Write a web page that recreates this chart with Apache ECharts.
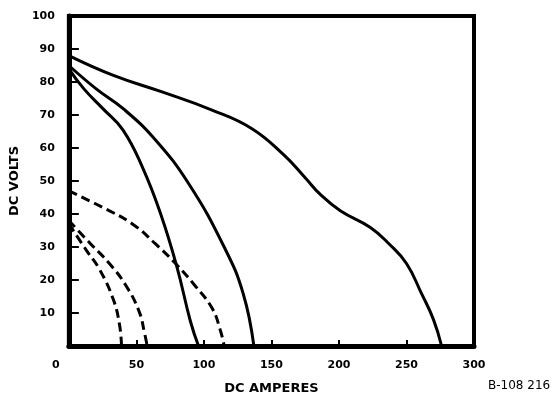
<!DOCTYPE html>
<html>
<head>
<meta charset="utf-8">
<script src="https://cdn.jsdelivr.net/npm/echarts@6/dist/echarts.min.js"></script>
<style>
  html, body { margin: 0; padding: 0; background: #fff; }
  #chart { width: 556px; height: 400px; }
</style>
</head>
<body>
<div id="chart"></div>
<script>
// [amperes, volts]
const solidHigh = [[0, 88], [33, 82], [69, 77], [106, 71.5], [135, 66], [159, 58], [175, 51], [186, 46], [201, 41], [223, 36], [237, 31], [250, 25], [261, 16], [270, 8], [276, 0]];
const solidMid = [[0, 85], [20, 78], [40, 72], [64, 62.5], [89, 49], [115, 30], [129, 16], [137, 0]];
const solidLow = [[0, 84], [11, 78], [25, 72], [40, 65.5], [55, 53.7], [68, 40], [80, 24], [90, 7.5], [96, 0]];
const dashedOuter = [[0, 47], [25, 42], [47, 37], [64, 31], [79, 25], [93, 18.5], [106, 11.5], [112, 5], [115, 0]];
const dashedMid = [[0, 38], [16, 31], [30, 25], [42, 18.5], [52, 10.5], [56, 4], [58, 0]];
const dashedInner = [[0, 37], [13, 29], [23, 23], [33, 14], [37.5, 6.5], [39, 0]];

const xTicks = [0, 50, 100, 150, 200, 250, 300];
const yTicks = [10, 20, 30, 40, 50, 60, 70, 80, 90, 100];

const chart = echarts.init(document.getElementById('chart'));

const font = 'DejaVu Sans';

function curve(data, dashed) {
  return {
    type: 'line',
    data: data,
    smooth: 0.45,
    showSymbol: false,
    lineStyle: { color: '#000', width: 3, type: dashed ? [9, 5] : 'solid' }
  };
}

chart.setOption({
  animation: false,
  grid: { left: 63, right: 82, top: 16, bottom: 45, show: true, borderColor: '#000', borderWidth: 4 },
  xAxis: {
    type: 'value', min: 0, max: 300, interval: 50,
    name: 'DC AMPERES', nameLocation: 'middle', nameGap: 36,
    nameTextStyle: { color: '#000', fontFamily: font, fontWeight: 'bold', fontSize: 13 },
    splitLine: { show: false },
    axisLine: { lineStyle: { color: '#000', width: 5 } },
    axisTick: { inside: true, length: 6, lineStyle: { color: '#000', width: 2 } },
    axisLabel: {
      color: '#000', fontFamily: font, fontWeight: 'bold', fontSize: 11, margin: 14,
      formatter: v => xTicks.includes(v) ? (v === 0 ? '{z|0}' : String(v)) : '',
      rich: { z: { padding: [0, 26, 0, 0], color: '#000', fontFamily: font, fontWeight: 'bold', fontSize: 11 } }
    }
  },
  yAxis: {
    type: 'value', min: 0, max: 100, interval: 10,
    name: 'DC VOLTS', nameLocation: 'middle', nameGap: 45, nameRotate: 90,
    nameTextStyle: { color: '#000', fontFamily: font, fontWeight: 'bold', fontSize: 13 },
    splitLine: { show: false },
    axisLine: { show: true, lineStyle: { color: '#000', width: 5 } },
    axisTick: { show: true, inside: true, length: 10, lineStyle: { color: '#000', width: 2 } },
    axisLabel: {
      color: '#000', fontFamily: font, fontWeight: 'bold', fontSize: 11, margin: 14,
      formatter: v => yTicks.includes(v) ? String(v) : ''
    }
  },
  graphic: [{
    type: 'text', left: 488, top: 380,
    style: { text: 'B-108 216', fill: '#000', font: '12px "DejaVu Sans"' }
  }],
  series: [
    curve(solidHigh, false),
    curve(solidMid, false),
    curve(solidLow, false),
    curve(dashedOuter, true),
    curve(dashedMid, true),
    curve(dashedInner, true)
  ]
});
</script>
</body>
</html>
